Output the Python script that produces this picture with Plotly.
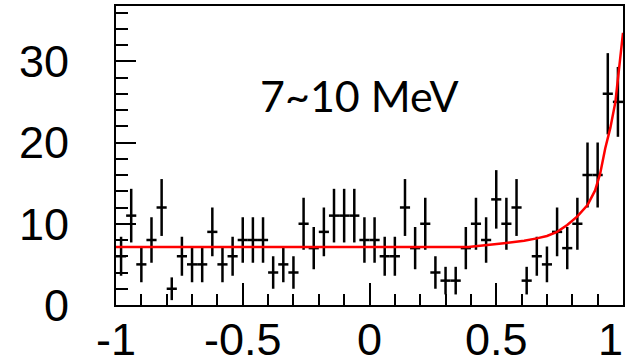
import plotly.graph_objects as go

# ---- data ----
bin_centers = [round(-0.98 + 0.04 * i, 2) for i in range(50)]
counts = [6, 11, 5, 8, 12, 2, 6, 5, 5, 9,
          5, 6, 8, 8, 8, 4, 5, 4, 10, 7,
          9, 11, 11, 11, 8, 8, 6, 6, 12, 7,
          10, 4, 3, 3, 7, 10, 8, 13, 10, 12,
          3, 6, 5, 9, 7, 10, 16, 16, 26, 25]
errors = [2.4, 3.3, 2.2, 2.8, 3.5, 1.4, 2.4, 2.2, 2.2, 3.0,
          2.2, 2.4, 2.8, 2.8, 2.8, 2.0, 2.2, 2.0, 3.2, 2.6,
          3.0, 3.3, 3.3, 3.3, 2.8, 2.8, 2.4, 2.4, 3.5, 2.6,
          3.2, 2.0, 1.7, 1.7, 2.6, 3.2, 2.8, 3.6, 3.2, 3.5,
          1.7, 2.4, 2.2, 3.0, 2.6, 3.2, 4.0, 4.0, 5.0, 4.3]
half_bin = [0.02] * 50

fit_x = [-1.0, 0.39, 0.53, 0.61, 0.66, 0.70, 0.74, 0.78, 0.82, 0.86,
         0.89, 0.91, 0.93, 0.95, 0.97, 0.98, 0.99, 1.0]
fit_y = [7.15, 7.15, 7.6, 7.9, 8.2, 8.5, 9.0, 9.85, 10.9, 12.3,
         14.1, 16.2, 19.3, 21.8, 25.0, 28.0, 31.0, 33.5]

x_tickvals = [-1, -0.5, 0, 0.5, 1]
x_ticktext = ["-1", "-0.5", "0", "0.5", "1\u00a0\u00a0"]
y_tickvals = [0, 10, 20, 30]
y_ticktext = ["0", "10", "20", "30"]
label_text = "7~10 MeV"

fig = go.Figure()

fig.add_trace(go.Scatter(
    x=bin_centers, y=counts, mode="markers",
    marker=dict(size=2, color="black", opacity=0),
    error_y=dict(type="data", array=errors, visible=True,
                 color="black", thickness=2.5, width=0),
    error_x=dict(type="data", array=half_bin, visible=True,
                 color="black", thickness=2.5, width=0),
    showlegend=False, hoverinfo="skip",
))

fig.add_trace(go.Scatter(
    x=fit_x, y=fit_y, mode="lines",
    line=dict(color="#ff0000", width=2.5),
    showlegend=False, hoverinfo="skip",
))

tick_font = dict(family="Liberation Sans", size=45, color="black")

fig.update_layout(
    width=630, height=362,
    margin=dict(l=116, r=7, t=6, b=57),
    paper_bgcolor="white", plot_bgcolor="white",
    xaxis=dict(
        range=[-1, 1], showgrid=False, zeroline=False,
        showline=True, mirror=True, linecolor="black", linewidth=2,
        ticks="inside", ticklen=22, tickwidth=2, tickcolor="black",
        tickvals=x_tickvals, ticktext=x_ticktext, tickfont=tick_font,
        ticklabelstandoff=-6, automargin=False, ticklabeloverflow="allow",
        minor=dict(ticks="inside", ticklen=11, tickwidth=2, tickcolor="black",
                   dtick=0.1, tick0=0, showgrid=False),
    ),
    yaxis=dict(
        range=[0, 36.8], showgrid=False, zeroline=False,
        showline=True, mirror=True, linecolor="black", linewidth=2,
        ticks="inside", ticklen=20, tickwidth=2, tickcolor="black",
        tickvals=y_tickvals, ticktext=y_ticktext, tickfont=tick_font,
        ticklabelstandoff=36, automargin=False, ticklabeloverflow="allow",
        minor=dict(ticks="inside", ticklen=12, tickwidth=2, tickcolor="black",
                   dtick=2, tick0=0, showgrid=False),
    ),
    annotations=[dict(
        text=label_text, xref="paper", yref="paper",
        x=0.481, y=0.700, xanchor="center", yanchor="middle",
        showarrow=False,
        font=dict(family="Lato", size=43, color="black"),
    )],
)

fig.write_html("out.html", config={"displayModeBar": False},
               post_script="document.body.style.margin='0';document.body.style.overflow='hidden';")
